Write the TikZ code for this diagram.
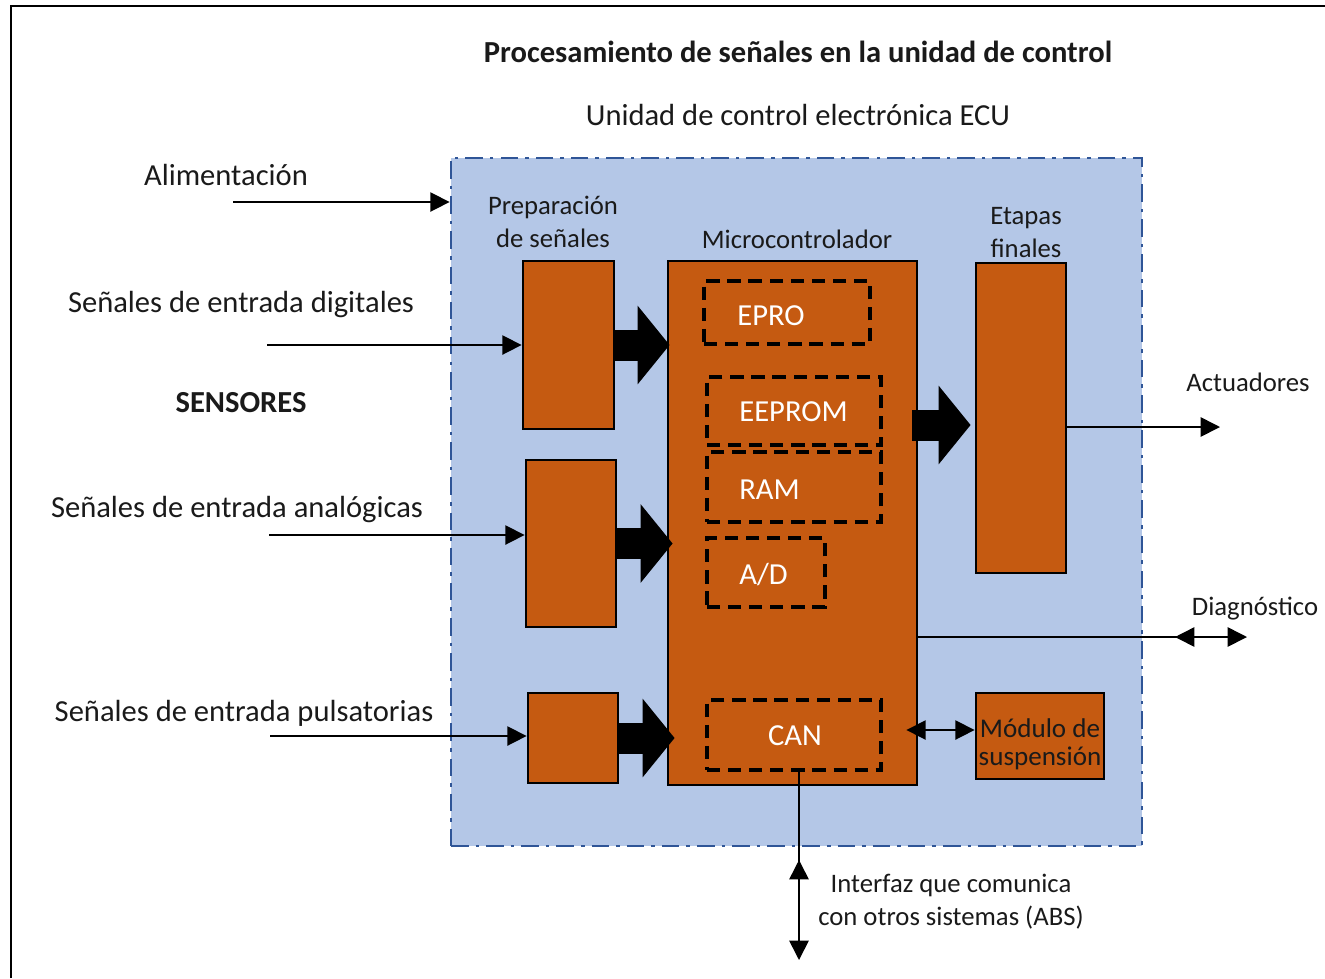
\documentclass[tikz,border=0pt]{standalone}
\usepackage{fontspec}
\setmainfont{Carlito}
\usetikzlibrary{arrows.meta,fit,calc}
\definecolor{ecuorange}{HTML}{C55A11}
\definecolor{ecublue}{HTML}{B4C7E7}
\definecolor{ecuborder}{HTML}{2F5597}
\definecolor{txt}{HTML}{1A1A1A}
\begin{document}
\begin{tikzpicture}[x=0.02cm,y=-0.02cm,
  big/.style={font=\fontsize{17.4}{20}\selectfont, text=txt, inner sep=0pt},
  small/.style={font=\fontsize{15.2}{18.8}\selectfont, text=txt, inner sep=0pt, align=center},
  obox/.style={draw=black, line width=1.6pt, fill=ecuorange, inner sep=0pt},
  dbox/.style={draw=black, line width=1.9pt, dash pattern=on 7.5pt off 4.5pt, inner sep=0pt},
  intext/.style={font=\fontsize{17.4}{20}\selectfont, text=white, inner sep=0pt},
  sig/.style={line width=0.9pt, -{Triangle[length=11pt,width=11pt]}},
  tip/.style={line width=0.9pt, -{Triangle[length=11pt,width=11pt]}},
  blk/.style={line width=0.62cm, -{Triangle[length=0.64cm,width=1.54cm]}}]
\useasboundingbox (0,0) rectangle (1325,978);
% outer frame
\draw[line width=1.4pt] (11,978) -- (11,6) -- (1325,6);
% titles
\node[big, font=\fontsize{17.4}{20}\selectfont\bfseries] (title) at (798,52) {Procesamiento de señales en la unidad de control};
\node[big] (ecuname) at (798,115) {Unidad de control electrónica ECU};
% ECU box
\node[fit={(451,158) (1142,846)}, inner sep=0pt, draw=ecuborder, fill=ecublue, line width=1.6pt,
  dash pattern=on 10pt off 4pt on 2pt off 4pt] (ecu) {};
% labels
\node[small] (prep) at (553,222) {Preparación\\de señales};
\node[small] (mclbl) at (797,239) {Microcontrolador};
\node[small] (etlbl) at (1026,233) {Etapas\\finales};
% boxes
\node[obox, fit={(523,261) (614,429)}] (p1) {};
\node[obox, fit={(526,460) (616,627)}] (p2) {};
\node[obox, fit={(528,693) (618,783)}] (p3) {};
\node[obox, fit={(668,261) (917,785)}] (micro) {};
\node[obox, fit={(976,263) (1066,573)}] (et) {};
\node[obox, fit={(976,693) (1104,779)}] (mod) {};
\node[font=\fontsize{15.4}{16}\selectfont, text=txt, align=center, inner sep=0pt] (modt) at (1040,744) {Módulo de\\suspensión};
% dashed inner boxes
\node[dbox, fit={(704,281) (870,344)}] (epro) {};
\node[dbox, fit={(707,377) (881,445)}] (eeprom) {};
\node[dbox, fit={(707,452) (881,522)}] (ram) {};
\node[dbox, fit={(707,538) (825,607)}] (ad) {};
\node[dbox, fit={(707,700) (881,770)}] (can) {};
\node[intext, anchor=west] (eprot) at (737,316) {EPRO};
\node[intext, anchor=west] (eepromt) at (739,412) {EEPROM};
\node[intext, anchor=west] (ramt) at (739,490) {RAM};
\node[intext, anchor=west] (adt) at (739,575) {A/D};
\node[intext] (cant) at (795,736) {CAN};
% left labels
\node[big] (alimt) at (226,175) {Alimentación};
\node[big] (digt) at (241,305) {Señales de entrada digitales};
\node[big, font=\fontsize{17.4}{20}\selectfont\bfseries] (sens) at (241,403) {SENSORES};
\node[big] (anat) at (237,510) {Señales de entrada analógicas};
\node[big] (pult) at (244,713) {Señales de entrada pulsatorias};
% right labels
\node[small] (actt) at (1248,382) {Actuadores};
\node[small] (diagt) at (1255,609) {Diagnóstico};
\node[small] (inft) at (951,902) {Interfaz que comunica\\con otros sistemas (ABS)};
% input arrows
\coordinate (alimS) at (233,202);
\coordinate (digS) at (267,345);
\coordinate (anaS) at (269,535);
\coordinate (pulS) at (270,736);
\draw[sig] (alimS) -- (ecu.west |- alimS);
\draw[sig] (digS) -- (p1.west |- digS);
\draw[sig] (anaS) -- (p2.west |- anaS);
\draw[sig] (pulS) -- (p3.west |- pulS);
% block arrows
\draw[blk] (p1.east) -- ($(micro.west |- p1.east)+(3,0)$);
\draw[blk] (p2.east) -- ($(micro.west |- p2.east)+(6,0)$);
\draw[blk] (p3.east) -- ($(micro.west |- p3.east)+(8,0)$);
\coordinate (mo) at (912,425);
\draw[blk] (mo) -- ($(et.west |- mo)+(-4,0)$);
% outputs
\coordinate (actE) at (1220,427);
\draw[sig] (et.east |- actE) -- (actE);
\coordinate (diagE) at (1247,637);
\coordinate (diagB) at (1197,637);
\coordinate (diagT) at (1175,637);
\draw[sig] (micro.east |- diagE) -- (diagE);
\draw[tip] (diagB) -- (diagT);
\draw[line width=0.9pt, {Triangle[length=11pt,width=11pt]}-{Triangle[length=11pt,width=11pt]}] ($(micro.east |- 0,730)+(-12,0)$) -- (mod.west |- 0,730);
\coordinate (canE) at (799,960);
\coordinate (canB) at (799,882);
\coordinate (canT) at (799,860);
\draw[sig] (can.south -| canE) -- (canE);
\draw[tip] (canB) -- (canT);
\end{tikzpicture}
\end{document}
